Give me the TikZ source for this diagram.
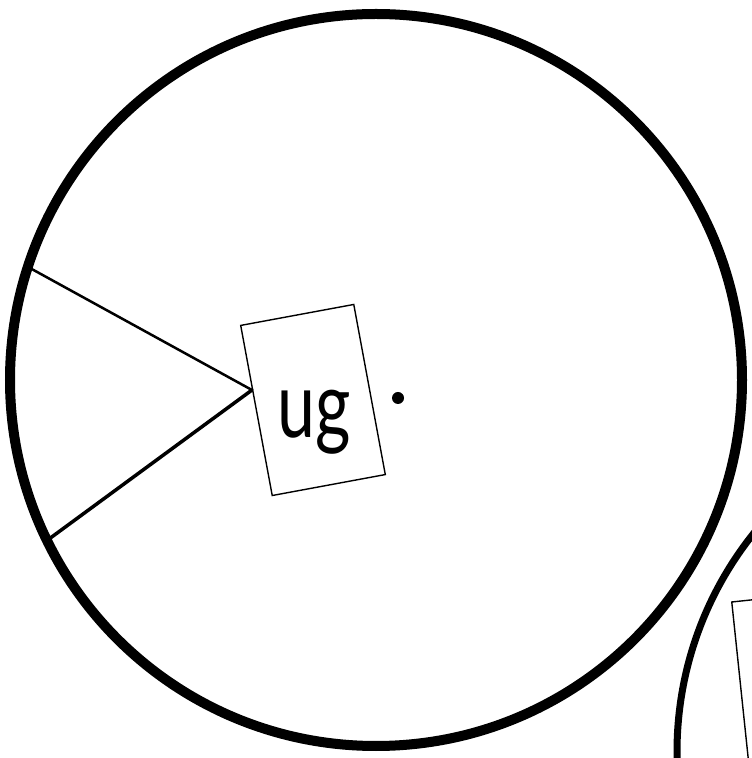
\documentclass[tikz,border=0pt]{standalone}
\usepackage{fontspec}
\newfontfamily\handfont{Lato}
\usetikzlibrary{calc}
\begin{document}
\begin{tikzpicture}[x=1pt,y=1pt,
    ring/.style={draw,circle,line width=#1,outer sep=0pt,inner sep=0pt},
    card/.style={draw,rectangle,line width=1.4pt,inner sep=0pt,minimum width=115pt,minimum height=173pt},
    spoke/.style={line width=#1,line cap=round}]
  \useasboundingbox (0,0) rectangle (752,758);
  \clip (0,0) rectangle (752,758);
  \node[ring=10pt,minimum size=732pt] (wheel) at (376,378) {};
  \node[ring=7pt,minimum size=700pt] (wheelb) at (1027,6) {};
  \node[card,rotate=10.5] (box) at (313,358) {};
  \node[card,rotate=6] (boxb) at (798,76) {};
  \node[anchor=base,inner sep=0pt,xscale=0.85,yscale=1.15,font=\handfont\fontsize{80}{80}\selectfont] (word) at (314,320) {ug};
  \node[circle,fill,inner sep=0pt,minimum size=12pt] (dot) at (398,360) {};
  \coordinate (tip) at ($(box.north west)!0.38!(box.south west)$);
  \draw[spoke=2.5pt] (wheel.162.5) -- (tip);
  \draw[spoke=3.5pt] (wheel.206.4) -- (tip);
\end{tikzpicture}
\end{document}
